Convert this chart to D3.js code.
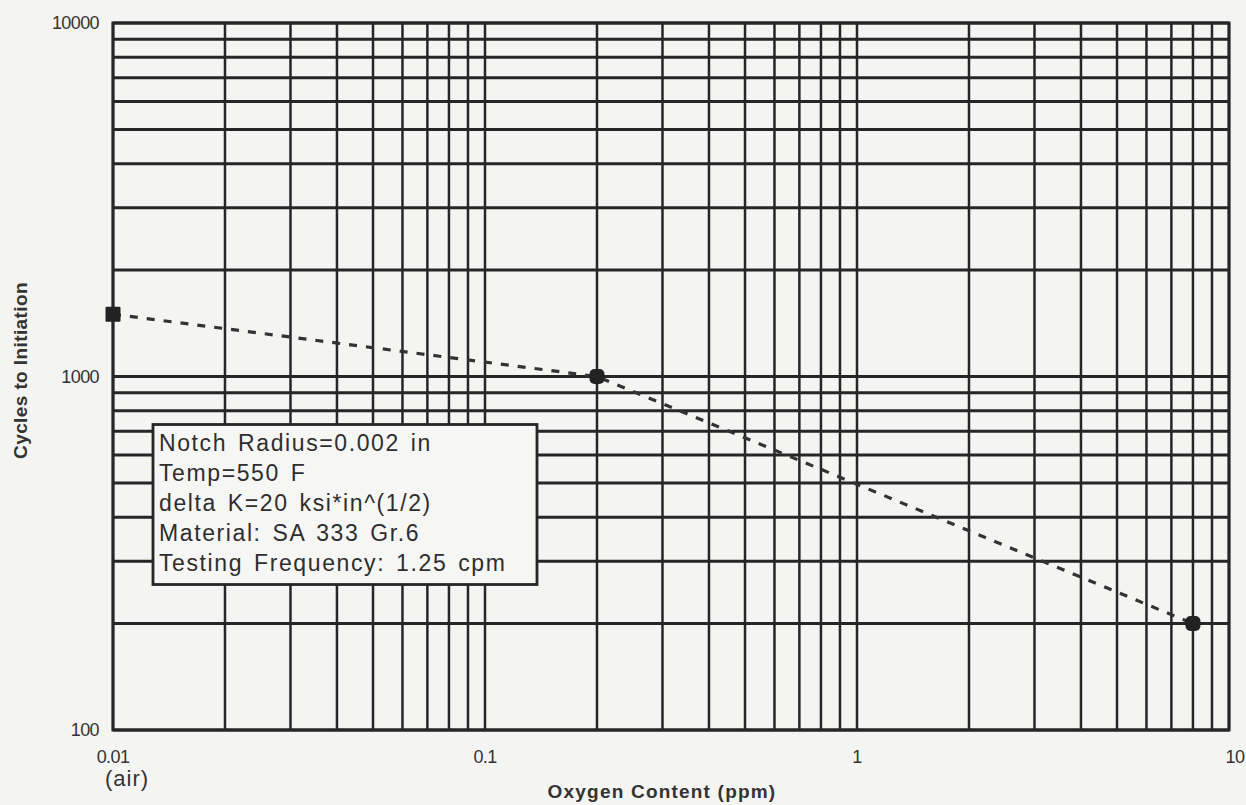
<!DOCTYPE html>
<html>
<head>
<meta charset="utf-8">
<script src="https://cdn.jsdelivr.net/npm/d3@7"></script>
<style>
  html, body { margin: 0; padding: 0; background: #f4f4f2; }
  svg { display: block; font-family: "Liberation Sans", Arial, sans-serif; }
</style>
</head>
<body>
<div id="chart"></div>
<script>
// values
const oxygenPpm = [0.01, 0.2, 8];
const cyclesToInit = [1500, 1000, 200];

const xTicks = [0.01, 0.1, 1, 10];
const xTickLabels = ["0.01", "0.1", "1", "10"];
const yTicks = [100, 1000, 10000];
const yTickLabels = ["100", "1000", "10000"];

const noteLines = [
  "Notch Radius=0.002 in",
  "Temp=550 F",
  "delta K=20 ksi*in^(1/2)",
  "Material: SA 333 Gr.6",
  "Testing Frequency: 1.25 cpm"
];

const W = 1246, H = 805;
const margin = { top: 23, right: 17, bottom: 75, left: 113 };
const width = W - margin.left - margin.right;
const height = H - margin.top - margin.bottom;
const ink = "#262626";

const svg = d3.select("#chart").append("svg")
  .attr("width", W)
  .attr("height", H);

const g = svg.append("g")
  .attr("transform", `translate(${margin.left},${margin.top})`);

const x = d3.scaleLog().domain([0.01, 10]).range([0, width]);
const y = d3.scaleLog().domain([100, 10000]).range([height, 0]);

// minor + major grid: every 1..9 multiple of each decade
const gridVals = (lo, hi) => {
  const out = [];
  for (let e = lo; e < hi; e *= 10) {
    for (let m = 1; m <= 9; m++) out.push(e * m);
  }
  out.push(hi);
  return out;
};

g.selectAll("line.vgrid")
  .data(gridVals(0.01, 10))
  .enter().append("line")
  .attr("class", "vgrid")
  .attr("x1", d => x(d)).attr("x2", d => x(d))
  .attr("y1", 0).attr("y2", height)
  .attr("stroke", ink)
  .attr("stroke-width", 2.5);

g.selectAll("line.hgrid")
  .data(gridVals(100, 10000))
  .enter().append("line")
  .attr("class", "hgrid")
  .attr("x1", 0).attr("x2", width)
  .attr("y1", d => y(d)).attr("y2", d => y(d))
  .attr("stroke", ink)
  .attr("stroke-width", 3);

g.append("rect")
  .attr("width", width)
  .attr("height", height)
  .attr("fill", "none")
  .attr("stroke", ink)
  .attr("stroke-width", 3);

// tick labels
const tickFont = 18;
g.selectAll("text.xtick")
  .data(xTicks)
  .enter().append("text")
  .attr("class", "xtick")
  .attr("x", (d, i) => x(d) + (i === xTicks.length - 1 ? 6 : 0))
  .attr("y", height + 33)
  .attr("text-anchor", "middle")
  .attr("fill", "#333")
  .style("font-size", tickFont + "px")
  .style("letter-spacing", "-0.6px")
  .text((d, i) => xTickLabels[i]);

g.append("text")
  .attr("x", x(0.01) + 14)
  .attr("y", height + 56)
  .attr("text-anchor", "middle")
  .attr("fill", "#333")
  .style("font-size", "22px")
  .style("letter-spacing", "1px")
  .text("(air)");

g.selectAll("text.ytick")
  .data(yTicks)
  .enter().append("text")
  .attr("class", "ytick")
  .attr("x", -14)
  .attr("y", d => y(d) + 6)
  .attr("text-anchor", "end")
  .attr("fill", "#333")
  .style("font-size", tickFont + "px")
  .style("letter-spacing", "-0.6px")
  .text((d, i) => yTickLabels[i]);

// axis titles
svg.append("text")
  .attr("x", margin.left + x(1) - 195)
  .attr("y", H - 7)
  .attr("text-anchor", "middle")
  .attr("fill", "#333")
  .style("font-size", "19px")
  .style("font-weight", "bold")
  .style("letter-spacing", "1.2px")
  .text("Oxygen Content (ppm)");

svg.append("text")
  .attr("transform", `translate(27,${margin.top + y(1000) - 6}) rotate(-90)`)
  .attr("text-anchor", "middle")
  .attr("fill", "#333")
  .style("font-size", "19px")
  .style("font-weight", "bold")
  .style("letter-spacing", "0.4px")
  .text("Cycles to Initiation");

// data: dashed line through the three tests
const pts = oxygenPpm.map((v, i) => ({ o: v, c: cyclesToInit[i] }));

g.append("path")
  .datum(pts)
  .attr("fill", "none")
  .attr("stroke", "#333")
  .attr("stroke-width", 3.2)
  .attr("stroke-dasharray", "8,9")
  .attr("d", d3.line().x(d => x(d.o)).y(d => y(d.c)));

const ms = 15;
g.selectAll("rect.mark")
  .data(pts)
  .enter().append("rect")
  .attr("class", "mark")
  .attr("x", d => x(d.o) - ms / 2)
  .attr("y", d => y(d.c) - ms / 2)
  .attr("width", ms)
  .attr("height", ms)
  .attr("rx", (d, i) => i === 0 ? 1 : 5)
  .attr("fill", "#222");

// annotation box
const box = g.append("g")
  .attr("transform", `translate(${x(0.01) + 40},${y(1000) + 48})`);

box.append("rect")
  .attr("width", 384)
  .attr("height", 160)
  .attr("fill", "#f6f6f4")
  .attr("stroke", ink)
  .attr("stroke-width", 2.8);

box.selectAll("text")
  .data(noteLines)
  .enter().append("text")
  .attr("x", 6)
  .attr("y", (d, i) => 26 + i * 30)
  .attr("fill", "#2e2e2e")
  .style("font-size", "23px")
  .style("letter-spacing", "1.6px")
  .style("word-spacing", "3px")
  .text(d => d);
</script>
</body>
</html>
